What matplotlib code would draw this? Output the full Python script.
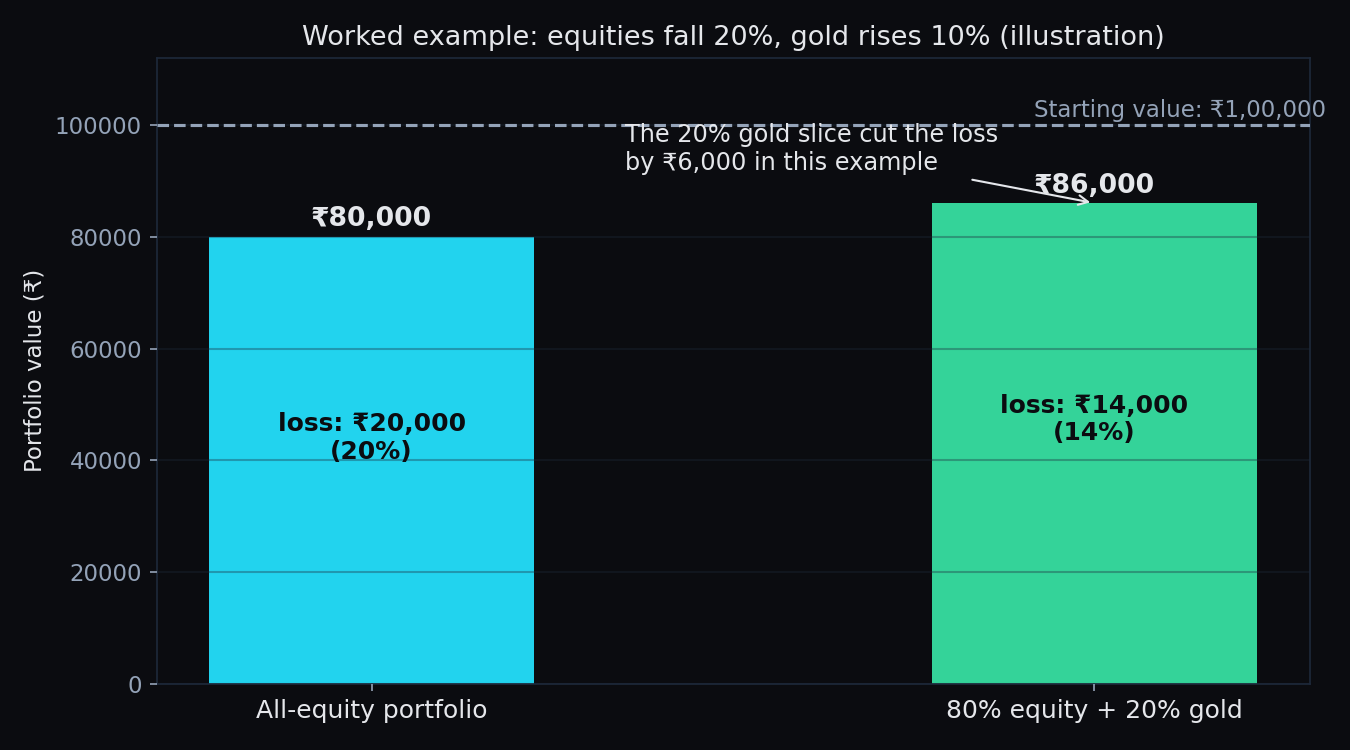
import matplotlib
matplotlib.use("Agg")
import matplotlib.pyplot as plt

# data
portfolios = ["All-equity portfolio", "80% equity + 20% gold"]
end_values = [80000, 86000]
losses = [20000, 14000]
loss_pcts = [20, 14]
start_value = 100000

BG = "#0b0c10"
TXT = "#e5e7eb"
MUTED = "#94a3b8"
EDGE = "#1e293b"
colors = ["#22d3ee", "#34d399"]

plt.rcParams.update({
    "font.family": "DejaVu Sans",
    "figure.facecolor": BG,
    "axes.facecolor": BG,
    "savefig.facecolor": BG,
})

fig, ax = plt.subplots(figsize=(9, 5), dpi=150)
fig.subplots_adjust(left=0.116, right=0.970, top=0.923, bottom=0.088)

x = list(range(len(portfolios)))
ax.bar(x, end_values, width=0.45, color=colors, zorder=1)

ax.set_ylim(0, 112000)
ax.set_xticks(x)
ax.set_xticklabels(portfolios, fontsize=12, color=TXT)
ax.tick_params(axis="y", labelsize=11, labelcolor=MUTED, color=MUTED)
ax.tick_params(axis="x", color=MUTED)
ax.grid(axis="y", color=EDGE, alpha=0.35, linewidth=1.0, zorder=2)
ax.set_axisbelow(False)
for s in ax.spines.values():
    s.set_color(EDGE)

ax.axhline(start_value, color=MUTED, linestyle="--", linewidth=1.5, zorder=3)
ax.text(1.32, start_value + 500, "Starting value: \u20b91,00,000", color=MUTED,
        fontsize=11, ha="right", va="bottom", clip_on=False)

for xi, v, l, p in zip(x, end_values, losses, loss_pcts):
    ax.text(xi, v + 800, f"\u20b9{v:,}", ha="center", va="bottom",
            fontsize=12.8, fontweight="bold", color=TXT, zorder=5)
    ax.text(xi, v * 0.55, f"loss: \u20b9{l:,}\n({p}%)", ha="center", va="center",
            fontsize=12, fontweight="bold", color="#0b0c10", zorder=5)

saved = end_values[1] - end_values[0]
ax.annotate(f"The 20% gold slice cut the loss\nby \u20b9{saved:,} in this example",
            xy=(1.0, end_values[1]), xytext=(0.35, 95700),
            ha="left", va="center", fontsize=11.5, color=TXT,
            arrowprops=dict(arrowstyle="->", color=TXT, lw=1.0), zorder=6)

ax.set_ylabel("Portfolio value (\u20b9)", fontsize=11, color=TXT)
ax.set_title("Worked example: equities fall 20%, gold rises 10% (illustration)",
             fontsize=13, color=TXT)

fig.savefig("out.png", dpi=150)
